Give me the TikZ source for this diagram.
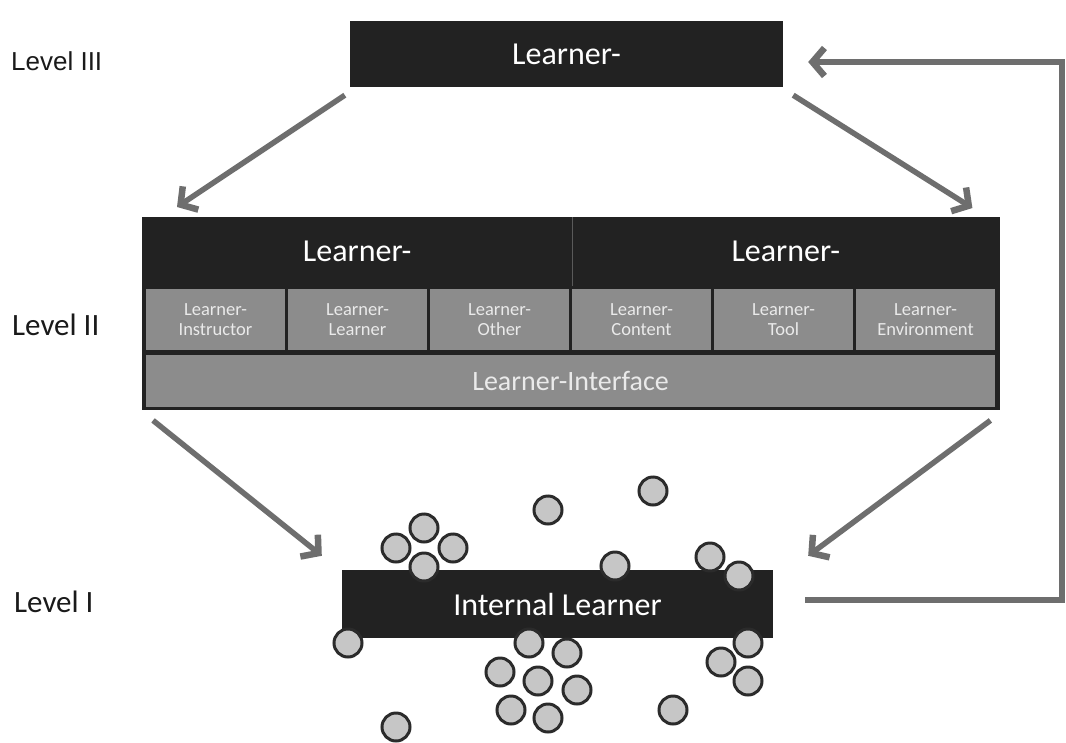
\documentclass[tikz,border=0pt]{standalone}
\usepackage{fontspec}
\setmainfont{Carlito}
\newfontfamily\arialf{Liberation Sans}
\usetikzlibrary{arrows.meta,calc}
\definecolor{boxdark}{HTML}{222222}
\definecolor{cellgrey}{HTML}{8C8C8C}
\definecolor{arrowgrey}{HTML}{6E6E6E}
\definecolor{dotfill}{HTML}{C6C6C6}
\definecolor{dotedge}{HTML}{2B2B2B}
\definecolor{celltext}{HTML}{EAEAEA}
\definecolor{divider}{HTML}{5A5A5A}
\definecolor{labeltext}{HTML}{1A1A1A}
\begin{document}
\begin{tikzpicture}[x=1pt,y=-1pt,
 darkbox/.style={fill=boxdark, draw=none, text=white, inner sep=0pt},
 bigtext/.style={font=\fontsize{32}{36}\selectfont},
 cell/.style={fill=cellgrey, draw=none, text=celltext, minimum width=138.5pt, minimum height=61pt, inner sep=0pt, align=center, font=\fontsize{18.5}{20}\selectfont},
 levellabel/.style={text=labeltext, font=\fontsize{31}{34}\selectfont, anchor=west, inner sep=0pt},
 conn/.style={draw=arrowgrey, line width=5.5pt, -{Straight Barb[length=12pt,width=28pt,line width=6.5pt]}},
 dot/.style={circle, fill=dotfill, draw=dotedge, line width=3pt, minimum size=28pt, inner sep=0pt}]
\useasboundingbox (0,0) rectangle (1066,742);
\fill[white] (0,0) rectangle (1066,742);

% level labels
\node[levellabel, font=\arialf\fontsize{26}{30}\selectfont] (l3) at (11,61) {Level III};
\node[levellabel] (l2) at (12,325) {Level II};
\node[levellabel] (l1) at (14,602) {Level I};

% top box
\node[darkbox, bigtext, minimum width=433pt, minimum height=66pt] (top) at (566.5,54) {Learner-};

% middle block
\node[fill=boxdark, minimum width=858pt, minimum height=193pt, inner sep=0pt, anchor=north west] (mid) at (142,217) {};
\node[darkbox, bigtext, minimum width=430pt, minimum height=69pt, anchor=north west] (midL) at (142,217) {Learner-};
\node[darkbox, bigtext, minimum width=428pt, minimum height=69pt, anchor=north east] (midR) at (1000,217) {Learner-};
\draw[divider, line width=1.5pt] (midL.north east) -- (midL.south east);

\node[cell] (c1) at (215.5,319.5) {Learner-\\Instructor};
\node[cell] (c2) at (357.5,319.5) {Learner-\\Learner};
\node[cell] (c3) at (499.5,319.5) {Learner-\\Other};
\node[cell] (c4) at (641.5,319.5) {Learner-\\Content};
\node[cell] (c5) at (783.5,319.5) {Learner-\\Tool};
\node[cell] (c6) at (925.5,319.5) {Learner-\\Environment};
\node[cell, minimum width=849pt, minimum height=52pt, font=\fontsize{28}{32}\selectfont] (iface) at (570.5,380.5) {Learner-Interface};

% bottom box
\node[darkbox, bigtext, minimum width=431pt, minimum height=68pt] (bot) at (557.5,604) {Internal Learner};

% connectors
\draw[conn] ($(top.south west)+(-5,8)$) -- ($(mid.north west)+(35,-10)$);
\draw[conn] ($(top.south east)+(10,8)$) -- ($(mid.north east)+(-28,-9)$);
\draw[conn] ($(mid.south west)+(11,10)$) -- ($(bot.north west)+(-20,-14)$);
\draw[conn] ($(mid.south east)+(-10,10)$) -- ($(bot.north east)+(35,-14)$);
\draw[conn] ($(bot.east)+(32,-4)$) -- ++(257,0) coordinate (fb) |- ($(top.east)+(25,8)$);

% dots
\foreach \n/\x/\y in {1/653/491, 2/548/510, 3/424/528, 4/396/548, 5/453/548, 6/424/567,
  7/615/566, 8/710/557, 9/739/576, 10/348/643, 11/529/643, 12/567/653, 13/500/672,
  14/538/681, 15/577/690, 16/511/710, 17/548/718, 18/748/643, 19/721/662, 20/748/681,
  21/673/710, 22/396/727}
  \node[dot] (d\n) at (\x,\y) {};
\end{tikzpicture}
\end{document}
